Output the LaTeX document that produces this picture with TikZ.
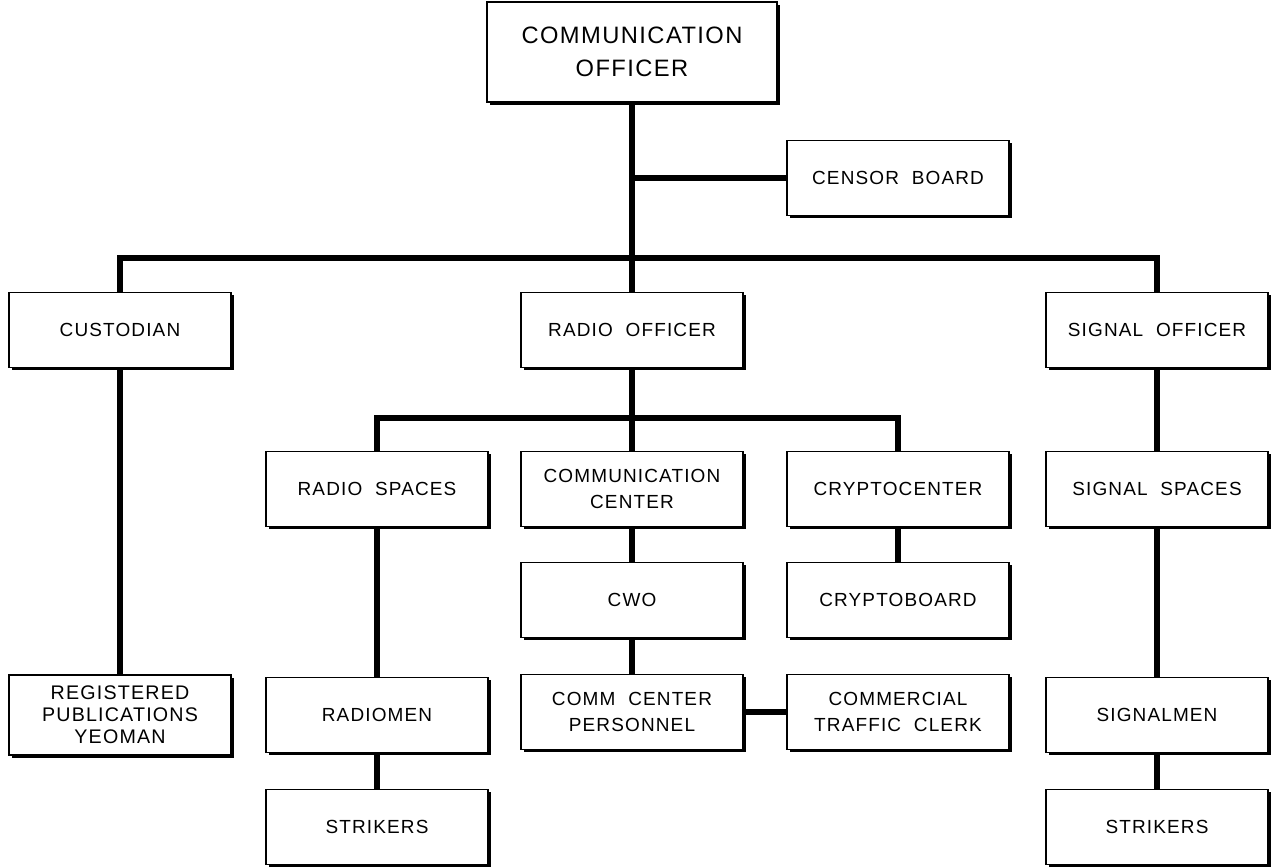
\documentclass[tikz,border=0pt]{standalone}
\usepackage{fontspec}
\setmainfont{Liberation Sans}[LetterSpace=6]
\usetikzlibrary{shadows}

\begin{document}
\begin{tikzpicture}[x=0.02cm,y=-0.02cm,line width=3.4pt,
    box/.style={draw,line width=0.9pt,fill=white,align=center,minimum width=4.44cm,minimum height=1.5cm,
        font=\fontsize{10.8}{14.5}\selectfont,
        drop shadow={shadow xshift=1.6pt,shadow yshift=-1.6pt,fill=black,opacity=1}},
    big box/.style={box,minimum width=5.8cm,minimum height=2cm,font=\fontsize{13.5}{18.5}\selectfont}]
    \useasboundingbox (0,0) rectangle (1272,867);

    \node[big box] (co) at (632,52) {COMMUNICATION\\OFFICER};
    \node[box] (cen) at (898,178) {CENSOR \ BOARD};

    \node[box] (cust) at (120,330) {CUSTODIAN};
    \node[box] (ro) at (632,330) {RADIO \ OFFICER};
    \node[box] (so) at (1157,330) {SIGNAL \ OFFICER};

    \node[box] (rs) at (377,489) {RADIO \ SPACES};
    \node[box] (cc) at (632,489) {COMMUNICATION\\CENTER};
    \node[box] (cry) at (898,489) {CRYPTOCENTER};
    \node[box] (ss) at (1157,489) {SIGNAL \ SPACES};

    \node[box] (cwo) at (632,600) {CWO};
    \node[box] (cb) at (898,600) {CRYPTOBOARD};

    \node[box,minimum height=1.6cm,font=\fontsize{11.2}{12.5}\selectfont] (rpy) at (120,715) {REGISTERED\\PUBLICATIONS\\YEOMAN};
    \node[box] (rm) at (377,715) {RADIOMEN};
    \node[box] (ccp) at (632,712) {COMM \ CENTER\\PERSONNEL};
    \node[box] (ctc) at (898,712) {COMMERCIAL\\TRAFFIC \ CLERK};
    \node[box] (sm) at (1157,715) {SIGNALMEN};

    \node[box] (rstk) at (377,827) {STRIKERS};
    \node[box] (sstk) at (1157,827) {STRIKERS};

    % junctions
    \coordinate (cenj) at (632,178);
    \coordinate (bus) at (632,258);
    \coordinate (rbus) at (632,418);

    \draw (co) -- (ro);
    \draw (cenj) -- (cen);
    \draw (cust) |- (bus) -| (so);
    \draw (rs) |- (rbus) -| (cry);
    \draw (ro) -- (cc) -- (cwo) -- (ccp);
    \draw (ccp) -- (ctc);
    \draw (cry) -- (cb);
    \draw (cust) -- (rpy);
    \draw (rs) -- (rm) -- (rstk);
    \draw (so) -- (ss) -- (sm) -- (sstk);
\end{tikzpicture}
\end{document}
